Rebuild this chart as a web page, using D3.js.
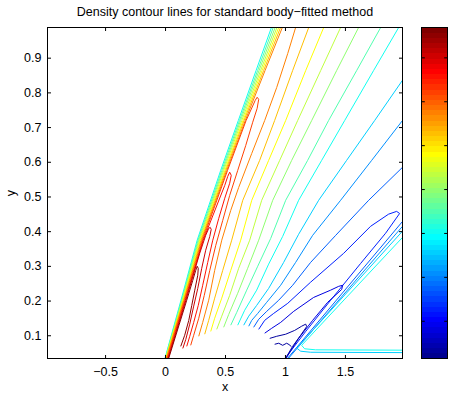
<!DOCTYPE html>
<html>
<head>
<meta charset="utf-8">
<script src="https://cdn.jsdelivr.net/npm/d3@7"></script>
<style>
  body { margin: 0; background: #fff; }
  text { font-family: "Liberation Sans", Arial, sans-serif; font-size: 12.5px; fill: #000; }
</style>
</head>
<body>
<div id="chart"></div>
<script>
//density contour chart, body-fitted grid

//axis limits and ticks
var xDomain = [-0.98, 1.98];
var yDomain = [0.033, 0.987];
var xTicks = [-0.5, 0, 0.5, 1, 1.5];
var yTicks = [0.1, 0.2, 0.3, 0.4, 0.5, 0.6, 0.7, 0.8, 0.9];

//contour levels (density) and colour limits of the colorbar
var levels = [1.18, 1.40, 1.63, 1.85, 2.07, 2.30, 2.52, 2.74, 2.96, 3.19, 3.41, 3.63, 3.86, 4.08, 4.30, 4.52, 4.75];
var colorLimits = [1.07, 4.84];
var colorbarTicks = [1.5, 2, 2.5, 3, 3.5, 4, 4.5];

//leading shock: all lines read at the same heights
var shockY = [0.034, 0.201, 0.374, 0.575, 0.719, 0.863, 0.987];
var shockBand = [
	{level: 6,  x: [0.000, 0.133, 0.268, 0.464, 0.611, 0.759, 0.887]},
	{level: 7,  x: [0.002, 0.138, 0.275, 0.473, 0.621, 0.772, 0.902]},
	{level: 8,  x: [0.004, 0.142, 0.281, 0.481, 0.630, 0.784, 0.918]},
	{level: 9,  x: [0.006, 0.146, 0.288, 0.489, 0.640, 0.797, 0.933]},
	{level: 10, x: [0.008, 0.150, 0.293, 0.498, 0.650, 0.809, 0.948]},
	{level: 11, x: [0.010, 0.154, 0.300, 0.506, 0.659, 0.822, 0.963]},
	{level: 12, x: [0.013, 0.158, 0.306, 0.514, 0.669, 0.834, 0.978]}
];

//high density loops behind the leading shock
var redLoops = [
	{level: 13, pts: [[0.018,0.034],[0.164,0.201],[0.313,0.374],[0.521,0.575],[0.676,0.719],[0.752,0.777],[0.768,0.786],[0.781,0.780],[0.768,0.754],[0.731,0.714],[0.673,0.647],[0.606,0.575],[0.539,0.503],[0.481,0.431],[0.423,0.359],[0.373,0.287],[0.327,0.215],[0.281,0.149],[0.239,0.100],[0.214,0.071]]},
	{level: 14, pts: [[0.023,0.034],[0.169,0.201],[0.318,0.374],[0.498,0.532],[0.523,0.558],[0.539,0.570],[0.552,0.561],[0.539,0.538],[0.498,0.495],[0.448,0.437],[0.398,0.374],[0.356,0.310],[0.314,0.244],[0.277,0.186],[0.239,0.137],[0.206,0.097],[0.181,0.068]]},
	{level: 15, pts: [[0.027,0.034],[0.174,0.201],[0.289,0.336],[0.339,0.388],[0.364,0.408],[0.377,0.411],[0.385,0.405],[0.373,0.385],[0.339,0.345],[0.306,0.293],[0.273,0.235],[0.239,0.184],[0.206,0.132],[0.173,0.088],[0.148,0.062]]},
	{level: 16, pts: [[0.031,0.034],[0.181,0.201],[0.231,0.258],[0.256,0.287],[0.268,0.299],[0.277,0.293],[0.273,0.273],[0.248,0.230],[0.223,0.186],[0.198,0.143],[0.164,0.100],[0.131,0.068]]}
];

//expansion fan over the bump
var fanLines = [
	{level: 12, pts: [[1.089,0.987],[1.023,0.912],[0.931,0.814],[0.831,0.719],[0.723,0.624],[0.614,0.526],[0.548,0.460],[0.473,0.374],[0.414,0.287],[0.364,0.201],[0.314,0.137],[0.281,0.097]]},
	{level: 11, pts: [[1.198,0.987],[1.064,0.863],[0.914,0.719],[0.789,0.604],[0.648,0.489],[0.556,0.374],[0.481,0.287],[0.414,0.207],[0.364,0.143],[0.331,0.103]]},
	{level: 10, pts: [[1.323,0.987],[1.173,0.863],[1.006,0.719],[0.864,0.604],[0.723,0.489],[0.631,0.374],[0.548,0.287],[0.473,0.207],[0.414,0.149],[0.381,0.111]]},
	{level: 9,  pts: [[1.464,0.987],[1.298,0.863],[1.106,0.719],[0.956,0.604],[0.806,0.489],[0.706,0.374],[0.614,0.293],[0.539,0.215],[0.473,0.155],[0.431,0.117]]},
	{level: 8,  pts: [[1.614,0.987],[1.431,0.863],[1.223,0.719],[1.056,0.604],[0.898,0.489],[0.781,0.374],[0.689,0.293],[0.606,0.221],[0.531,0.160],[0.489,0.123]]},
	{level: 7,  pts: [[1.798,0.987],[1.598,0.863],[1.364,0.719],[1.189,0.604],[1.006,0.489],[0.881,0.379],[0.773,0.299],[0.681,0.230],[0.598,0.166],[0.548,0.129]]},
	{level: 6,  pts: [[1.948,0.987],[1.739,0.863],[1.498,0.719],[1.306,0.604],[1.114,0.489],[0.981,0.385],[0.864,0.305],[0.764,0.230],[0.664,0.172],[0.606,0.129]]},
	{level: 5,  pts: [[1.98,0.835],[1.748,0.719],[1.514,0.604],[1.281,0.489],[1.114,0.391],[0.989,0.310],[0.864,0.235],[0.764,0.186],[0.698,0.155],[0.656,0.129]]},
	{level: 4,  pts: [[1.98,0.719],[1.723,0.604],[1.464,0.489],[1.231,0.388],[1.089,0.310],[0.964,0.244],[0.848,0.195],[0.773,0.163],[0.723,0.143],[0.698,0.126]]},
	{level: 3,  pts: [[1.98,0.584],[1.698,0.489],[1.423,0.388],[1.214,0.310],[1.064,0.244],[0.948,0.201],[0.848,0.169],[0.781,0.146],[0.739,0.123]]}
];

//low density loops ahead of the trailing shock
var wakeLoops = [
	{level: 2, pts: [[0.781,0.117],[0.831,0.143],[0.906,0.163],[1.023,0.192],[1.214,0.253],[1.489,0.336],[1.714,0.414],[1.864,0.449],[1.931,0.457],[1.956,0.451],[1.839,0.394],[1.631,0.307],[1.381,0.201],[1.173,0.111],[1.014,0.039]]},
	{level: 1, pts: [[0.831,0.106],[0.889,0.120],[0.964,0.137],[1.073,0.169],[1.239,0.209],[1.381,0.230],[1.448,0.241],[1.481,0.244],[1.473,0.232],[1.356,0.195],[1.231,0.143],[1.114,0.091],[1.010,0.034]]},
	{level: 0, pts: [[0.873,0.091],[0.931,0.097],[1.006,0.103],[1.081,0.114],[1.139,0.126],[1.173,0.132],[1.181,0.125],[1.131,0.100],[1.064,0.068],[1.006,0.034]]},
	{level: 0, pts: [[0.914,0.074],[0.948,0.077],[0.981,0.071],[1.014,0.077],[1.040,0.072],[1.052,0.067]]}
];

//trailing shock and the layer behind it
var trailingShock = [
	{level: 3, pts: [[1.98,0.428],[1.023,0.034]]},
	{level: 4, pts: [[1.98,0.414],[1.031,0.034]]},
	{level: 5, pts: [[1.98,0.400],[1.098,0.063],[1.131,0.054],[1.214,0.051],[1.98,0.050]]},
	{level: 6, pts: [[1.98,0.382],[1.139,0.071],[1.164,0.061],[1.256,0.058],[1.98,0.057]]}
];

//matlab jet(64), row i = 1..64
function jetRow(i){
	var u = function(k){ return k <= 16 ? k/16 : (k <= 31 ? 1 : (48 - k)/16); };
	var r = i < 25 ? 0 : u(i - 24);
	var g = (i < 9 || i > 55) ? 0 : u(i - 8);
	var b = i > 39 ? 0 : u(i + 8);
	return d3.rgb(r*255, g*255, b*255).formatHex();
}

function levelColor(v){
	var idx = Math.floor((v - colorLimits[0]) / (colorLimits[1] - colorLimits[0]) * 64);
	idx = Math.max(0, Math.min(63, idx));
	return jetRow(idx + 1);
}

var width = 449, height = 395;
var box = {left: 47.5, right: 402.5, top: 27.5, bottom: 358.5};
var cbar = {left: 421.5, right: 447.5};

var svg = d3.select('#chart').append('svg')
	.attr('width', width)
	.attr('height', height);

var x = d3.scaleLinear().domain(xDomain).range([box.left, box.right]);
var y = d3.scaleLinear().domain(yDomain).range([box.bottom, box.top]);
var cy = d3.scaleLinear().domain(colorLimits).range([box.bottom, box.top]);

svg.append('defs').append('clipPath')
	.attr('id', 'plotclip')
  .append('rect')
	.attr('x', box.left)
	.attr('y', box.top)
	.attr('width', box.right - box.left)
	.attr('height', box.bottom - box.top);

//contour lines
var line = d3.line().x(function(d){ return x(d[0]); }).y(function(d){ return y(d[1]); });

var bandLines = shockBand.map(function(b){
	return {level: b.level, pts: b.x.map(function(v, i){ return [v, shockY[i]]; })};
});
var allLines = bandLines.concat(redLoops, fanLines, wakeLoops, trailingShock);

svg.append('g')
	.attr('clip-path', 'url(#plotclip)')
	.selectAll('path')
	.data(allLines)
	.enter().append('path')
	.attr('d', function(d){ return line(d.pts); })
	.attr('fill', 'none')
	.attr('stroke', function(d){ return levelColor(levels[d.level]); })
	.attr('stroke-width', 1)
	.attr('stroke-linejoin', 'round');

//axes, ticks point inwards on all four sides
var fmt = d3.format('~g');
function clean(g){
	g.select('.domain').remove();
	g.attr('font-size', null).attr('font-family', null);
	g.selectAll('.tick line').attr('stroke', '#000');
}

svg.append('g')
	.attr('transform', 'translate(0,' + box.bottom + ')')
	.call(d3.axisBottom(x).tickValues(xTicks).tickSizeInner(-3.5).tickSizeOuter(0).tickPadding(8.5).tickFormat(fmt))
	.call(clean);
svg.append('g')
	.attr('transform', 'translate(0,' + box.top + ')')
	.call(d3.axisTop(x).tickValues(xTicks).tickSizeInner(-3.5).tickSizeOuter(0).tickFormat(''))
	.call(clean);
svg.append('g')
	.attr('transform', 'translate(' + box.left + ',0)')
	.call(d3.axisLeft(y).tickValues(yTicks).tickSizeInner(-3.5).tickSizeOuter(0).tickPadding(6).tickFormat(fmt))
	.call(clean);
svg.append('g')
	.attr('transform', 'translate(' + box.right + ',0)')
	.call(d3.axisRight(y).tickValues(yTicks).tickSizeInner(-3.5).tickSizeOuter(0).tickFormat(''))
	.call(clean);

svg.append('rect')
	.attr('x', box.left)
	.attr('y', box.top)
	.attr('width', box.right - box.left)
	.attr('height', box.bottom - box.top)
	.attr('fill', 'none')
	.attr('stroke', '#000');

//colorbar, 64 bands
var step = (colorLimits[1] - colorLimits[0]) / 64;
svg.append('g')
	.selectAll('rect')
	.data(d3.range(64))
	.enter().append('rect')
	.attr('x', cbar.left)
	.attr('width', cbar.right - cbar.left)
	.attr('y', function(j){ return cy(colorLimits[0] + (j + 1) * step); })
	.attr('height', function(j){ return cy(colorLimits[0] + j * step) - cy(colorLimits[0] + (j + 1) * step); })
	.attr('fill', function(j){ return jetRow(j + 1); })
	.attr('shape-rendering', 'crispEdges');

svg.append('g')
	.attr('transform', 'translate(' + cbar.left + ',0)')
	.call(d3.axisLeft(cy).tickValues(colorbarTicks).tickSizeInner(-3.3).tickSizeOuter(0).tickFormat(''))
	.call(clean);
svg.append('g')
	.attr('transform', 'translate(' + cbar.right + ',0)')
	.call(d3.axisRight(cy).tickValues(colorbarTicks).tickSizeInner(-3.3).tickSizeOuter(0).tickFormat(''))
	.call(clean);

svg.append('rect')
	.attr('x', cbar.left)
	.attr('y', box.top)
	.attr('width', cbar.right - cbar.left)
	.attr('height', box.bottom - box.top)
	.attr('fill', 'none')
	.attr('stroke', '#000');

//labels
svg.append('text')
	.attr('x', (box.left + box.right) / 2)
	.attr('y', 16)
	.attr('text-anchor', 'middle')
	.text('Density contour lines for standard body\u2212fitted method');

svg.append('text')
	.attr('x', (box.left + box.right) / 2)
	.attr('y', 391)
	.attr('text-anchor', 'middle')
	.text('x');

svg.append('text')
	.attr('transform', 'translate(14.5,' + (box.top + box.bottom) / 2 + ') rotate(-90)')
	.attr('text-anchor', 'middle')
	.text('y');
</script>
</body>
</html>
